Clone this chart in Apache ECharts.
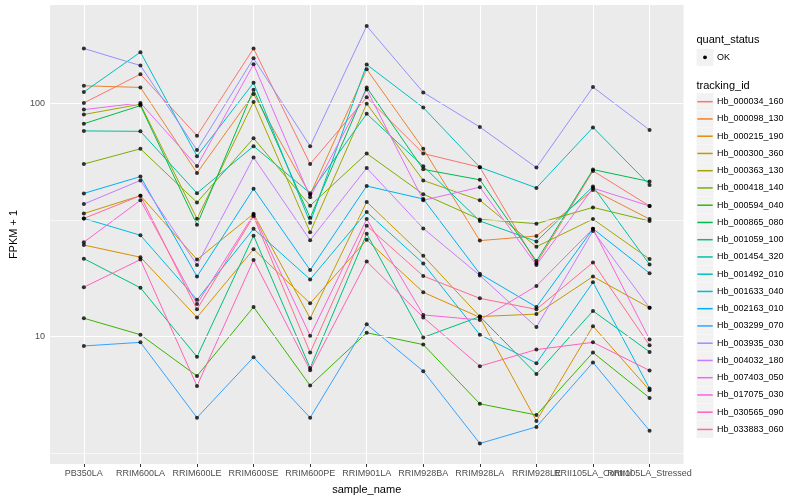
<!DOCTYPE html>
<html><head><meta charset="utf-8">
<script src="https://cdn.jsdelivr.net/npm/echarts@6/dist/echarts.min.js"></script>
<style>html,body{margin:0;padding:0;background:#fff}#c{width:800px;height:500px}</style>
</head><body><div id="c"></div>
<script>
const categories = ['PB350LA','RRIM600LA','RRIM600LE','RRIM600SE','RRIM600PE','RRIM901LA','RRIM928BA','RRIM928LA','RRIM928LE','RRII105LA_Control','RRII105LA_Stressed'];
const trackingIds = ['Hb_000034_160','Hb_000098_130','Hb_000215_190','Hb_000300_360','Hb_000363_130','Hb_000418_140','Hb_000594_040','Hb_000865_080','Hb_001059_100','Hb_001454_320','Hb_001492_010','Hb_001633_040','Hb_002163_010','Hb_003299_070','Hb_003935_030','Hb_004032_180','Hb_007403_050','Hb_017075_030','Hb_030565_090','Hb_033883_060'];
const colors = ['#F8766D','#EA8331','#D89000','#C09B00','#A3A500','#7CAE00','#39B600','#00BB4E','#00BF7D','#00C1A3','#00BFC4','#00BAE0','#00B0F6','#35A2FF','#9590FF','#C77CFF','#E76BF3','#FA62DB','#FF62BC','#FF6C91'];

const hb_000034_160 = [100.3, 133.2, 72.6, 171.6, 54.9, 106.0, 60.9, 53.2, 20.6, 51.3, 36.3];
const hb_000098_130 = [118.8, 116.9, 50.3, 109.5, 40.6, 139.8, 63.8, 25.8, 27.0, 42.5, 31.9];
const hb_000215_190 = [24.7, 21.9, 12.1, 23.7, 13.9, 26.0, 15.5, 12.1, 4.36, 11.1, 5.90];
const hb_000300_360 = [33.7, 40.2, 21.4, 33.6, 12.0, 37.8, 22.2, 12.2, 12.5, 18.1, 13.3];
const hb_000363_130 = [89.5, 99.0, 32.0, 101.3, 28.0, 99.6, 46.7, 38.4, 24.3, 31.9, 21.5];
const hb_000418_140 = [54.9, 63.8, 37.6, 70.8, 36.4, 60.9, 40.8, 31.8, 30.5, 35.8, 31.3];
const hb_000594_040 = [12.0, 10.2, 6.79, 13.4, 6.18, 10.4, 9.25, 5.16, 4.62, 8.55, 5.47];
const hb_000865_080 = [81.7, 97.7, 30.2, 114.2, 32.3, 116.9, 52.1, 47.0, 21.1, 52.0, 46.2];
const hb_001059_100 = [21.6, 16.2, 8.20, 27.1, 7.34, 27.6, 9.93, 12.2, 6.92, 12.9, 8.61];
const hb_001454_320 = [76.1, 75.8, 41.2, 65.5, 41.2, 90.1, 53.7, 31.3, 25.6, 44.0, 20.4];
const hb_001492_010 = [111.7, 165.5, 59.3, 122.3, 30.8, 146.4, 95.8, 53.2, 43.4, 78.8, 44.7];
const hb_001633_040 = [32.1, 27.2, 14.4, 29.0, 17.6, 34.2, 20.6, 10.2, 7.70, 17.1, 6.00];
const hb_002163_010 = [41.1, 48.5, 18.1, 43.0, 19.3, 44.2, 38.9, 18.6, 13.4, 29.0, 18.7];
const hb_003299_070 = [9.13, 9.46, 4.50, 8.17, 4.50, 11.3, 7.12, 3.49, 4.11, 7.76, 3.96];
const hb_003935_030 = [171.6, 145.0, 63.0, 155.7, 65.5, 214.2, 111.3, 79.1, 53.0, 117.3, 76.8];
const hb_004032_180 = [37.0, 46.7, 20.3, 58.6, 25.9, 52.8, 29.1, 18.3, 11.0, 28.4, 13.3];
const hb_007403_050 = [93.9, 100.3, 53.8, 146.8, 39.6, 114.4, 38.4, 43.7, 20.3, 43.3, 36.3];
const hb_017075_030 = [25.4, 38.4, 13.8, 33.3, 10.1, 31.9, 12.4, 11.8, 16.5, 29.0, 9.74];
const hb_030565_090 = [16.3, 21.4, 6.15, 21.3, 7.19, 21.0, 12.1, 7.48, 8.81, 9.46, 7.17];
const hb_033883_060 = [32.1, 40.2, 13.1, 32.8, 8.55, 29.9, 18.2, 14.6, 13.1, 20.8, 9.19];

const seriesValues = [hb_000034_160, hb_000098_130, hb_000215_190, hb_000300_360, hb_000363_130, hb_000418_140, hb_000594_040, hb_000865_080, hb_001059_100, hb_001454_320, hb_001492_010, hb_001633_040, hb_002163_010, hb_003299_070, hb_003935_030, hb_004032_180, hb_007403_050, hb_017075_030, hb_030565_090, hb_033883_060];

const yTickValues = [10, 100];
const yGridMajor = [10, 100];
const yGridMinor = [3.1623, 31.623];
const yMin = 2.85, yMax = 263.5;

const FONT = "'Liberation Sans', Arial, sans-serif";
const chart = echarts.init(document.getElementById('c'), null, {renderer: 'canvas'});

const xIdx = categories.map((c, i) => i);
// tick labels split over three stacked axes so that overlapping labels are all drawn (as in the reference)
const xLabelGroups = [xIdx.slice(0, 9), [9], [10]];

const lineSeries = trackingIds.map((name, k) => ({
  type: 'line', name: name,
  data: seriesValues[k].map((v, i) => [i, v]),
  showSymbol: false, symbol: 'circle',
  itemStyle: {color: colors[k]},
  lineStyle: {color: colors[k], width: 1},
  z: 3, silent: true, animation: false,
  emphasis: {disabled: true}
}));

const pointData = [];
seriesValues.forEach(vals => vals.forEach((v, i) => pointData.push([i, v])));

const gridSeries = {
  type: 'line', name: '__grid', data: [], z: 1, silent: true, animation: false,
  markLine: {
    silent: true, symbol: ['none', 'none'], label: {show: false}, animation: false,
    data: [
      ...yGridMinor.map(v => ({yAxis: v, lineStyle: {color: '#FFFFFF', width: 0.6, type: 'solid'}})),
      ...yGridMajor.map(v => ({yAxis: v, lineStyle: {color: '#FFFFFF', width: 1.1, type: 'solid'}})),
      ...xIdx.map(i => ({xAxis: i, lineStyle: {color: '#FFFFFF', width: 1.1, type: 'solid'}}))
    ]
  }
};

const pointSeries = {
  type: 'scatter', name: 'OK', data: pointData, symbol: 'circle', symbolSize: 4,
  itemStyle: {color: '#000000'}, z: 5, silent: true, animation: false
};

const KEY_X = 696.5, KEY_W = 17, FIRST_KEY_Y = 93.2, KEY_STEP = 17.25;
const graphics = [
  {type: 'text', x: KEY_X, y: 40, style: {text: 'quant_status', fill: '#000', font: '11px ' + FONT, textVerticalAlign: 'middle', verticalAlign: 'middle'}},
  {type: 'rect', shape: {x: KEY_X, y: 48.8, width: KEY_W, height: 17}, style: {fill: '#F2F2F2'}, z: 0},
  {type: 'circle', shape: {cx: KEY_X + 8.5, cy: 57.3, r: 1.9}, style: {fill: '#000'}, z: 1},
  {type: 'text', x: 717, y: 57.3, style: {text: 'OK', fill: '#000', font: '9px ' + FONT, textVerticalAlign: 'middle', verticalAlign: 'middle'}},
  {type: 'text', x: KEY_X, y: 85.5, style: {text: 'tracking_id', fill: '#000', font: '11px ' + FONT, textVerticalAlign: 'middle', verticalAlign: 'middle'}}
];
trackingIds.forEach((n, i) => {
  const y0 = FIRST_KEY_Y + i * KEY_STEP;
  graphics.push({type: 'rect', shape: {x: KEY_X, y: y0, width: KEY_W, height: 17}, style: {fill: '#F2F2F2'}, z: 0});
  graphics.push({type: 'line', shape: {x1: KEY_X + 0.8, y1: y0 + 8.5, x2: KEY_X + KEY_W - 0.8, y2: y0 + 8.5}, style: {stroke: colors[i], lineWidth: 1.5}, z: 1});
  graphics.push({type: 'text', x: 717, y: y0 + 8.5, style: {text: n, fill: '#000', font: '9px ' + FONT, textVerticalAlign: 'middle', verticalAlign: 'middle'}, z: 1});
});

const xAxes = xLabelGroups.map((vals, j) => ({
  type: 'value', min: -0.6, max: 10.6, gridIndex: 0, position: 'bottom', offset: 0,
  name: j === 0 ? 'sample_name' : '', nameLocation: 'middle', nameGap: 20,
  nameTextStyle: {color: '#000', fontSize: 11, fontFamily: FONT},
  axisLine: {show: false},
  axisTick: {show: true, length: 3, lineStyle: {color: '#333333', width: 1}, customValues: vals},
  axisLabel: {show: true, customValues: vals, margin: 5, color: '#4D4D4D', fontSize: 9, fontFamily: FONT,
    formatter: v => categories[Math.round(v)] || '', hideOverlap: false},
  splitLine: {show: false}, minorSplitLine: {show: false}
}));

chart.setOption({
  backgroundColor: '#FFFFFF',
  animation: false,
  textStyle: {fontFamily: FONT},
  grid: {left: 40, right: 116.5, top: 5, bottom: 32, show: true, backgroundColor: '#EBEBEB', borderWidth: 0, containLabel: false},
  xAxis: xAxes,
  yAxis: {
    type: 'log', logBase: 10, min: yMin, max: yMax,
    name: 'FPKM + 1', nameLocation: 'middle', nameGap: 27, nameRotate: 90,
    nameTextStyle: {color: '#000', fontSize: 11, fontFamily: FONT},
    axisLine: {show: false},
    axisTick: {show: true, length: 3, lineStyle: {color: '#333333', width: 1}, customValues: yTickValues},
    axisLabel: {show: true, customValues: yTickValues, margin: 5, color: '#4D4D4D', fontSize: 9, fontFamily: FONT},
    splitLine: {show: false}
  },
  graphic: graphics,
  series: [gridSeries, ...lineSeries, pointSeries]
});
</script>
</body></html>
